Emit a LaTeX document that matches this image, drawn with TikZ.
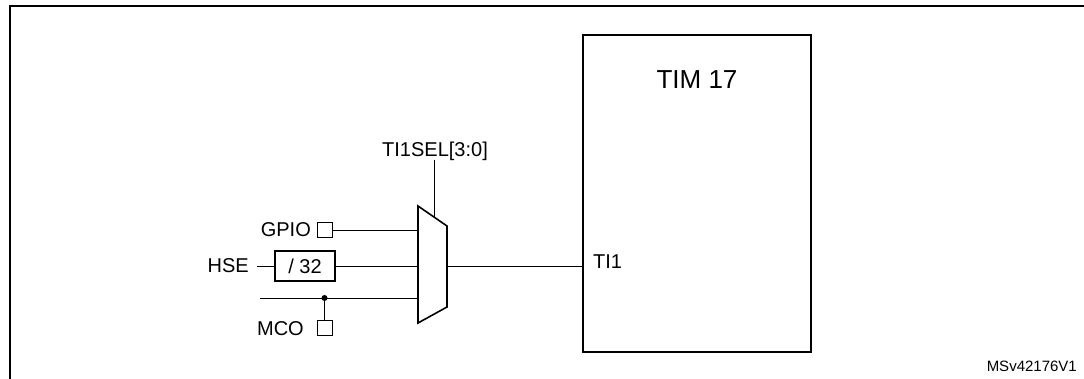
\documentclass[tikz,border=0pt]{standalone}
\usepackage{fontspec}
\setmainfont{Liberation Sans}
\begin{document}
\begin{tikzpicture}[x=1pt,y=-1pt,
  lbl/.style={font=\fontsize{20}{24}\selectfont, inner sep=0pt},
  wire/.style={line width=0.9pt},
  pad/.style={draw, line width=0.9pt, minimum size=15pt, inner sep=0pt},
  divbox/.style={draw, line width=1.5pt, minimum width=60pt, minimum height=30pt, inner sep=0pt, font=\fontsize{20}{24}\selectfont},
  timbox/.style={draw, line width=2.2pt, minimum width=228pt, minimum height=317pt, inner sep=0pt}]
\useasboundingbox (0,0) rectangle (1084,379);
% outer frame (cut by the page)
\draw[line width=2.5pt] (10,380) -- (10,6) -- (1085,6);
% TIM 17 block
\node[timbox] (tim) at (697,193.5) {};
\node[font=\fontsize{26}{31}\selectfont, inner sep=0pt] (timlbl) at (697,80) {TIM 17};
\node[lbl, anchor=west] (ti1) at (593,262) {TI1};
% multiplexer
\coordinate (m1) at (418,206);
\coordinate (m2) at (447,226);
\coordinate (m3) at (447,307);
\coordinate (m4) at (418,323);
\draw[line width=1.6pt, line join=miter] (m1) -- (m2) -- (m3) -- (m4) -- cycle;
\coordinate (inA) at (418,230);
\coordinate (inB) at (418,266);
\coordinate (inC) at (418,298);
\coordinate (out) at (447,266);
\coordinate (sel) at (434,217);
% select
\node[lbl, anchor=base] (sellbl) at (435,157) {TI1SEL[3:0]};
\coordinate (seltop) at (434,160);
\draw[wire] (seltop) -- (sel);
% GPIO
\node[pad] (gpio) at (324.5,229.5) {};
\node[lbl, anchor=east] (gpiolbl) at (311,230) {GPIO};
\draw[wire] (gpio.east |- inA) -- (inA);
% HSE
\node[lbl, anchor=east] (hse) at (249,266) {HSE};
\node[divbox] (div) at (305,266) {/ 32};
\coordinate (hsestart) at (257,266);
\draw[wire] (hsestart) -- (div.west);
\draw[wire] (div.east) -- (inB);
% MCO
\coordinate (cstart) at (260,298);
\coordinate (dot) at (324.5,298);
\draw[wire] (cstart) -- (inC);
\fill (dot) circle (3pt);
\node[pad] (mco) at (324.5,327.5) {};
\draw[wire] (dot) -- (mco.north);
\node[lbl, anchor=east] (mcolbl) at (304,329) {MCO};
% output
\draw[wire] (out) -- (out -| tim.west);
% reference tag
\node[font=\fontsize{15}{18}\selectfont, inner sep=0pt, anchor=east] (tag) at (1077,366) {MSv42176V1};
\end{tikzpicture}
\end{document}
